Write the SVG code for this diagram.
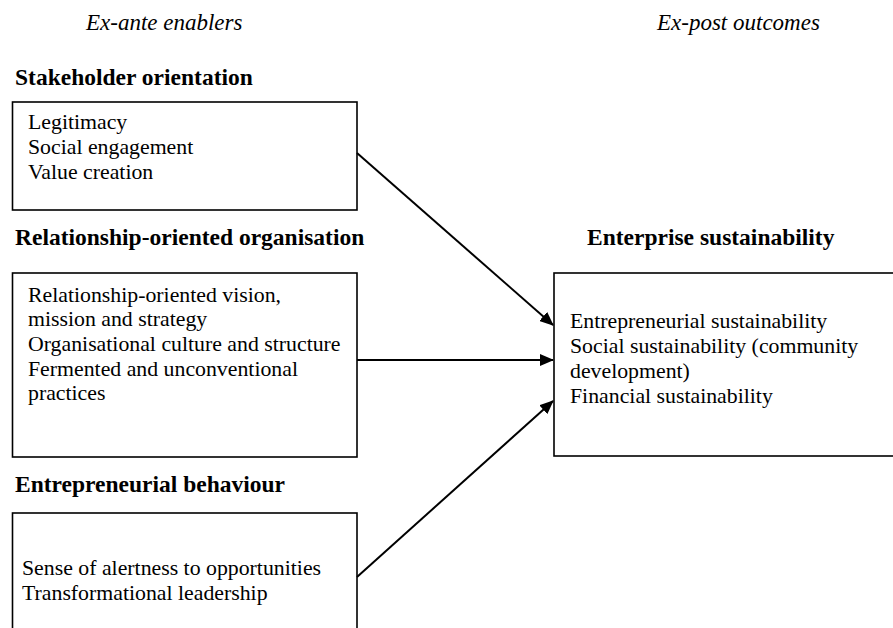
<svg xmlns="http://www.w3.org/2000/svg" width="893" height="628" viewBox="0 0 893 628">
<style>
text{font-family:"Liberation Serif","Times New Roman",serif;fill:#000}
.it{font-style:italic;font-size:23px}
.hd{font-weight:bold;font-size:23.5px}
.tx{font-size:21.8px}
.box{fill:#fff;stroke:#000;stroke-width:1.6}
.con{stroke:#000;stroke-width:2;fill:none;marker-end:url(#ah)}
</style>
<defs>
<marker id="ah" markerWidth="14" markerHeight="12" refX="13" refY="6" orient="auto" markerUnits="userSpaceOnUse">
<path d="M0,0 L14,6 L0,12 Z" fill="#000"/>
</marker>
</defs>
<rect width="893" height="628" fill="#fff"/>
<text class="it" x="86" y="30">Ex-ante enablers</text>
<text class="it" x="657" y="30">Ex-post outcomes</text>
<g id="stakeholder">
<text class="hd" x="15" y="85">Stakeholder orientation</text>
<rect class="box" x="12.5" y="102" width="344.5" height="108"/>
<text class="tx" x="28" y="129">Legitimacy</text>
<text class="tx" x="28" y="154">Social engagement</text>
<text class="tx" x="28" y="179">Value creation</text>
</g>
<g id="relationship">
<text class="hd" x="15" y="245">Relationship-oriented organisation</text>
<rect class="box" x="12.5" y="273" width="344.5" height="184"/>
<text class="tx" x="28" y="302">Relationship-oriented vision,</text>
<text class="tx" x="28" y="326">mission and strategy</text>
<text class="tx" x="28" y="351">Organisational culture and structure</text>
<text class="tx" x="28" y="376">Fermented and unconventional</text>
<text class="tx" x="28" y="400">practices</text>
</g>
<g id="entrepreneurial">
<text class="hd" x="15" y="492">Entrepreneurial behaviour</text>
<rect class="box" x="12.5" y="513" width="344.5" height="130"/>
<text class="tx" x="22" y="575">Sense of alertness to opportunities</text>
<text class="tx" x="22" y="600">Transformational leadership</text>
</g>
<g id="enterprise">
<text class="hd" x="587" y="245">Enterprise sustainability</text>
<rect class="box" x="554" y="273" width="345" height="183"/>
<text class="tx" x="570" y="328">Entrepreneurial sustainability</text>
<text class="tx" x="570" y="353">Social sustainability (community</text>
<text class="tx" x="570" y="378">development)</text>
<text class="tx" x="570" y="403">Financial sustainability</text>
</g>
<g id="connectors">
<line class="con" x1="357" y1="153" x2="553" y2="325"/>
<line class="con" x1="357" y1="360" x2="553" y2="360"/>
<line class="con" x1="357" y1="577" x2="553" y2="401"/>
</g>
</svg>
